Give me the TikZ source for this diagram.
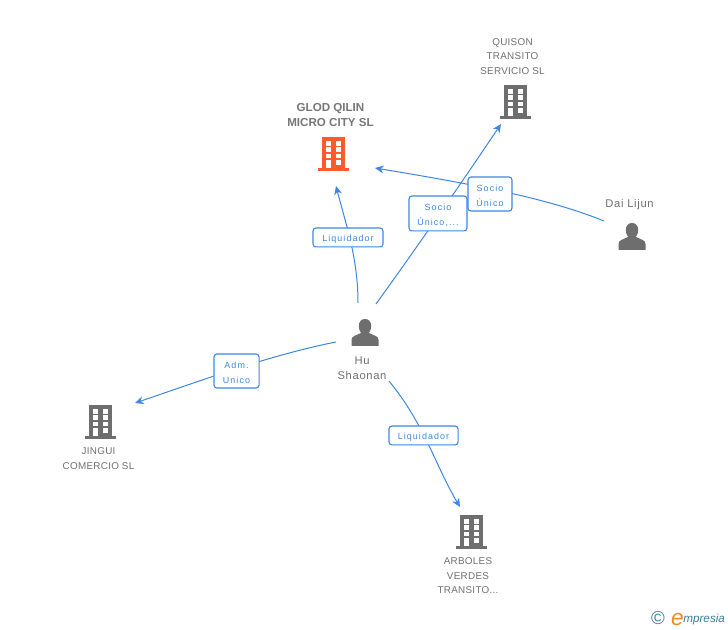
\documentclass[tikz,border=0pt]{standalone}
\usepackage{fontspec}
\setmainfont{Liberation Sans}
\newfontfamily\lblfont[LetterSpace=12]{Liberation Sans}
\newfontfamily\namefont[LetterSpace=3]{Liberation Sans}
\newfontfamily\persfont[LetterSpace=6]{Liberation Sans}
\usetikzlibrary{arrows.meta}
\definecolor{linkblue}{HTML}{3D86E4}
\definecolor{icongray}{HTML}{6E6E6E}
\definecolor{namegray}{HTML}{6F6F6F}
\definecolor{maingray}{HTML}{777777}
\definecolor{mainorange}{HTML}{FF5A2B}
\definecolor{logoblue}{HTML}{3F7F97}
\definecolor{logoorange}{HTML}{F08A24}
\newcommand\tagup{\rule{0pt}{7.8pt}}
\tikzset{
  x=0.75pt,y=-0.75pt,
  link/.style={draw=linkblue,line width=0.75pt,-{Stealth[length=6.5pt,width=6pt]}},
  tag/.style={draw=linkblue,line width=0.8pt,rounded corners=2.2pt,fill=white,text=linkblue,
    font=\lblfont\fontsize{6.7pt}{11.2pt}\selectfont,align=center,inner sep=0pt,anchor=center},
  nametext/.style={text=namegray,font=\namefont\fontsize{7.4pt}{10.9pt}\selectfont,align=center,inner sep=0pt},
  persontext/.style={text=namegray,font=\persfont\fontsize{8.4pt}{11.4pt}\selectfont,align=center,inner sep=0pt},
  maintext/.style={text=maingray,font=\bfseries\fontsize{8.7pt}{11.2pt}\selectfont,align=center,inner sep=0pt},
  building/.pic={
    \fill[pic actions] (-11.5,-17) rectangle (11.5,14);
    \fill[pic actions] (-15.5,14) rectangle (15.5,17);
    \foreach \yy in {-13,-6.6,-0.2}{
      \fill[white] (-8,\yy) rectangle (-3,\yy+4.6);
      \fill[white] (2,\yy) rectangle (7,\yy+4.6);
    }
    \fill[white] (-8,6.4) rectangle (-3,14);
    \fill[white] (2,6.4) rectangle (7,11);
  },
  person/.pic={
    \fill[icongray] (-13.5,13.5) -- (-13.5,7.5) .. controls (-13.5,3.5) and (-9,3) .. (-4,0.5)
      .. controls (-5.5,-2) and (-6.2,-4) .. (-6.2,-6.5)
      .. controls (-6.2,-11) and (-3.5,-13.5) .. (0,-13.5)
      .. controls (3.5,-13.5) and (6.2,-11) .. (6.2,-6.5)
      .. controls (6.2,-4) and (5.5,-2) .. (4,0.5)
      .. controls (9,3) and (13.5,3.5) .. (13.5,7.5) -- (13.5,13.5) -- cycle;
  }
}
\begin{document}
\begin{tikzpicture}
\useasboundingbox (0,0) rectangle (728,630);
% anchor points
\coordinate (huA) at (358,303);
\coordinate (huB) at (376,304);
\coordinate (huC) at (336,342);
\coordinate (huD) at (389,381);
\coordinate (daiA) at (604,221);
\coordinate (glodA) at (336,186);
\coordinate (glodB) at (375,168);
\coordinate (quisonA) at (501,124);
\coordinate (jinguiA) at (135,403);
\coordinate (arbolesA) at (460,507);
% connectors
\draw[link] (huA) .. controls (358,258) and (346,225) .. (glodA);
\draw[link] (huB) .. controls (420,243) and (462,182) .. (quisonA);
\draw[link] (daiA) .. controls (545,197) and (465,183) .. (glodB);
\draw[link] (huC) .. controls (270,355) and (200,381) .. (jinguiA);
\draw[link] (huD) .. controls (425,425) and (435,465) .. (arbolesA);
% labels on connectors
\node[tag,minimum width=52.5pt,minimum height=14.2pt] (l1) at (348,237.5) {\tagup Liquidador};
\node[tag,minimum width=43.5pt,minimum height=26.2pt] (l2) at (438,213.5) {\tagup Socio\\Único,...};
\node[tag,minimum width=33pt,minimum height=25.5pt] (l3) at (490,194) {\tagup Socio\\Único};
\node[tag,minimum width=33.8pt,minimum height=25.5pt] (l4) at (236.5,371) {\tagup Adm.\\Unico};
\node[tag,minimum width=51.8pt,minimum height=14.2pt] (l5) at (423.5,435.5) {\tagup Liquidador};
% icons
\pic[mainorange] at (333.5,154) {building};
\pic[icongray] at (515.5,102) {building};
\pic[icongray] at (100.5,422) {building};
\pic[icongray] at (471.5,532) {building};
\pic at (365,332.5) {person};
\pic at (632,236.5) {person};
% names
\node[maintext] (glod) at (330.5,115) {GLOD QILIN\\MICRO CITY SL};
\node[nametext] (quison) at (512.5,56.5) {QUISON\\TRANSITO\\SERVICIO SL};
\node[persontext] (dai) at (629.5,205) {Dai Lijun};
\node[persontext] (hu) at (362,368.5) {Hu\\Shaonan};
\node[nametext] (jingui) at (98.5,458.5) {JINGUI\\COMERCIO SL};
\node[nametext] (arboles) at (468,576) {ARBOLES\\VERDES\\TRANSITO...};
% logo
\node[text=logoblue,font=\fontsize{14pt}{14pt}\selectfont,inner sep=0pt] (copy) at (658,618.5) {©};
\node[text=logoorange,font=\itshape\fontsize{17pt}{17pt}\selectfont,inner sep=0pt] (logoe) at (677.5,619.5) {e};
\node[text=logoblue,font=\itshape\fontsize{8.8pt}{9pt}\selectfont,inner sep=0pt,anchor=west] (logot) at (683,619) {mpresia};
\end{tikzpicture}
\end{document}
